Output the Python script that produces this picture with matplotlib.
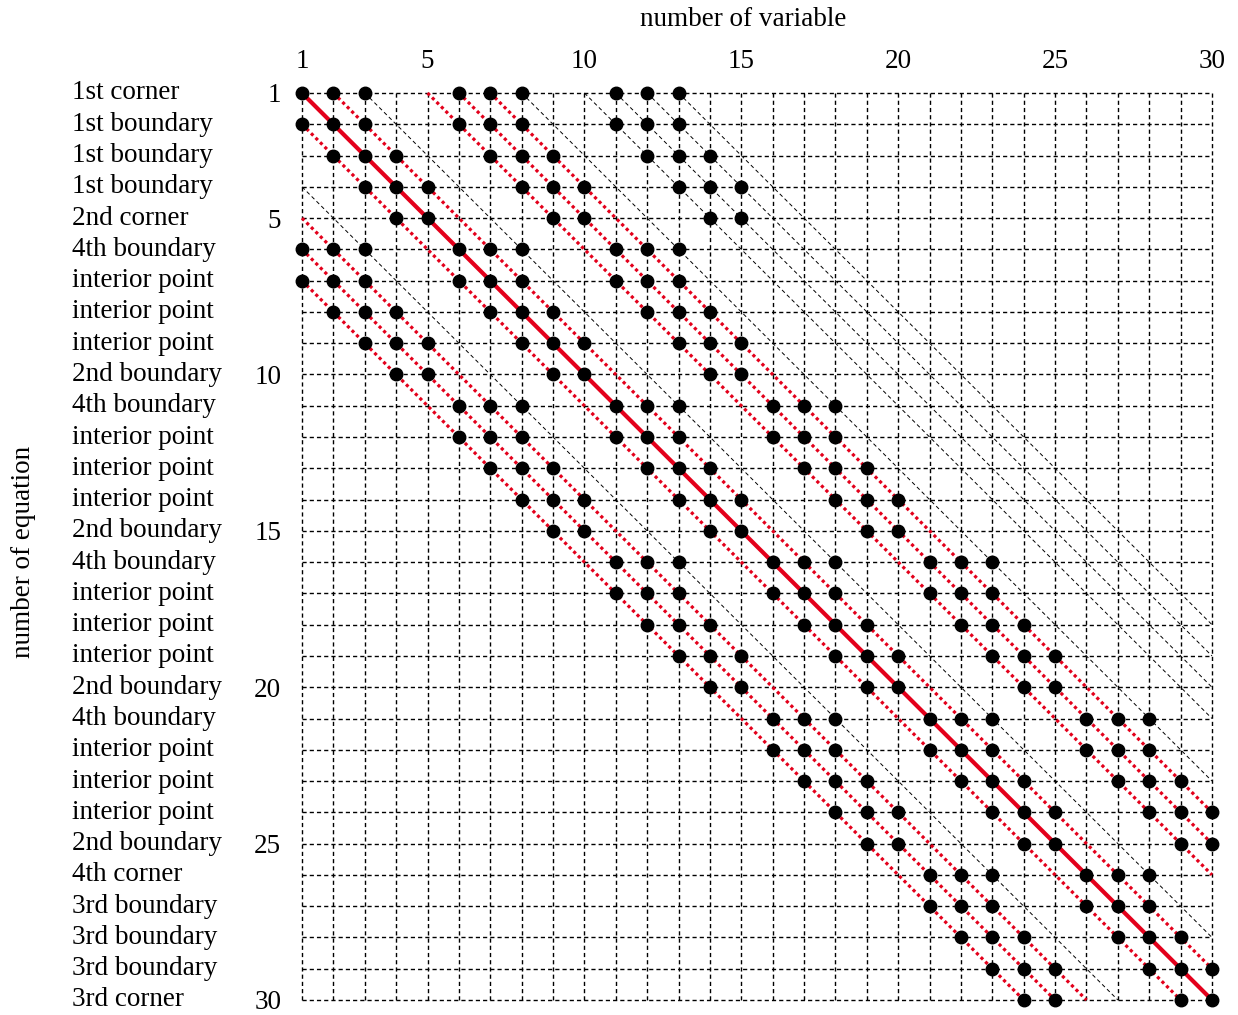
import matplotlib
matplotlib.use("Agg")
import matplotlib.pyplot as plt
import matplotlib.transforms as mtransforms

plt.rcParams["font.family"] = ["Liberation Serif", "DejaVu Serif"]

N = 30

# nonzero columns of each equation (row 1 .. 30)
row_cols = [
    [1, 2, 3, 6, 7, 8, 11, 12, 13],
    [1, 2, 3, 6, 7, 8, 11, 12, 13],
    [2, 3, 4, 7, 8, 9, 12, 13, 14],
    [3, 4, 5, 8, 9, 10, 13, 14, 15],
    [4, 5, 9, 10, 14, 15],
    [1, 2, 3, 6, 7, 8, 11, 12, 13],
    [1, 2, 3, 6, 7, 8, 11, 12, 13],
    [2, 3, 4, 7, 8, 9, 12, 13, 14],
    [3, 4, 5, 8, 9, 10, 13, 14, 15],
    [4, 5, 9, 10, 14, 15],
    [6, 7, 8, 11, 12, 13, 16, 17, 18],
    [6, 7, 8, 11, 12, 13, 16, 17, 18],
    [7, 8, 9, 12, 13, 14, 17, 18, 19],
    [8, 9, 10, 13, 14, 15, 18, 19, 20],
    [9, 10, 14, 15, 19, 20],
    [11, 12, 13, 16, 17, 18, 21, 22, 23],
    [11, 12, 13, 16, 17, 18, 21, 22, 23],
    [12, 13, 14, 17, 18, 19, 22, 23, 24],
    [13, 14, 15, 18, 19, 20, 23, 24, 25],
    [14, 15, 19, 20, 24, 25],
    [16, 17, 18, 21, 22, 23, 26, 27, 28],
    [16, 17, 18, 21, 22, 23, 26, 27, 28],
    [17, 18, 19, 22, 23, 24, 27, 28, 29],
    [18, 19, 20, 23, 24, 25, 28, 29, 30],
    [19, 20, 24, 25, 29, 30],
    [21, 22, 23, 26, 27, 28],
    [21, 22, 23, 26, 27, 28],
    [22, 23, 24, 27, 28, 29],
    [23, 24, 25, 28, 29, 30],
    [24, 25, 29, 30],
]

row_names = [
    "1st corner", "1st boundary", "1st boundary", "1st boundary", "2nd corner",
    "4th boundary", "interior point", "interior point", "interior point", "2nd boundary",
    "4th boundary", "interior point", "interior point", "interior point", "2nd boundary",
    "4th boundary", "interior point", "interior point", "interior point", "2nd boundary",
    "4th boundary", "interior point", "interior point", "interior point", "2nd boundary",
    "4th corner", "3rd boundary", "3rd boundary", "3rd boundary", "3rd corner",
]

# diagonals (column - row) of the interior stencil and the extra one-sided ones
stencil_offsets = [-6, -5, -4, -1, 1, 4, 5, 6]
extra_offsets = [-3, 2, 7, 9, 10, 11, 12]
tick_vals = [1, 5, 10, 15, 20, 25, 30]

RED = "#e3001b"

fig = plt.figure(figsize=(12.38, 10.15), dpi=100)
W, H = 1238, 1015
ax = fig.add_axes([302 / W, 15 / H, 910 / W, 907 / H])
ax.set_xlim(1, N)
ax.set_ylim(N, 1)
for s in ax.spines.values():
    s.set_visible(False)

# dotted grid
for k in range(1, N + 1):
    ax.plot([1, N], [k, k], color="black", lw=1.0, ls=(0, (3, 2.2)), clip_on=False, zorder=1)
    ax.plot([k, k], [1, N], color="black", lw=1.0, ls=(0, (3, 2.2)), clip_on=False, zorder=1)

def diag(off):
    r0 = max(1, 1 - off)
    r1 = min(N, N - off)
    return [r0 + off, r1 + off], [r0, r1]

for off in extra_offsets:
    x, y = diag(off)
    ax.plot(x, y, color="black", lw=0.7, ls=(0, (4, 3)), clip_on=False, zorder=2)

for off in stencil_offsets:
    x, y = diag(off)
    ax.plot(x, y, color=RED, lw=2.3, ls=(0, (1, 1)), clip_on=False, zorder=3)

x, y = diag(0)
ax.plot(x, y, color=RED, lw=3.0, solid_capstyle="butt", clip_on=False, zorder=3)

# nonzero entries
xs, ys = [], []
for r, cols in enumerate(row_cols, start=1):
    xs += cols
    ys += [r] * len(cols)
ax.plot(xs, ys, "o", color="black", ms=9.0, clip_on=False, zorder=5)

ax.xaxis.tick_top()
ax.set_xticks(tick_vals)
ax.set_yticks(tick_vals)
ax.tick_params(axis="both", length=0, labelsize=19.5)
ax.tick_params(axis="x", pad=13.5)
ax.tick_params(axis="y", pad=15)

trans = mtransforms.blended_transform_factory(fig.transFigure, ax.transData)
for r, name in enumerate(row_names, start=1):
    ax.text(72 / W, r, name, transform=trans, ha="left", va="center",
            fontsize=19.5)

fig.text(743 / W, 1 - 19 / H, "number of variable", ha="center", va="center", fontsize=19.5)
fig.text(24 / W, 1 - 552 / H, "number of equation", ha="center", va="center",
         rotation=90, fontsize=19.5)

fig.savefig("out.png", dpi=100)
